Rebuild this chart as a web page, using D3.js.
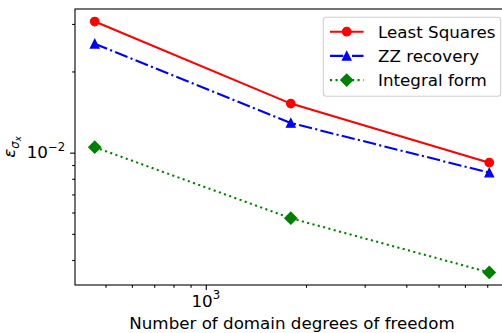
<!DOCTYPE html>
<html>
<head>
<meta charset="utf-8">
<script src="https://cdn.jsdelivr.net/npm/d3@7"></script>
<style>
  body { margin: 0; background: #fff; }
  svg text { font-family: 'DejaVu Sans', sans-serif; fill: #000; }
</style>
</head>
<body>
<svg id="chart"></svg>
<script>
// values (log-log)
const dofs = [464, 1800, 7100];
const leastSquares = [0.03062, 0.0152, 0.009181];
const zzRecovery = [0.02533, 0.01288, 0.00843];
const integralForm = [0.01048, 0.005715, 0.003597];
const seriesNames = ['Least Squares', 'ZZ recovery', 'Integral form'];

const xMajorTicks = [1000];
const xMinorTicks = [500, 600, 700, 800, 900, 2000, 3000, 4000, 5000, 6000, 7000, 8000];
const yMajorTicks = [0.01];
const yMinorTicks = [0.004, 0.005, 0.006, 0.007, 0.008, 0.009, 0.02, 0.03];

const W = 502, H = 333;
const fs = 16.7;
const plot = { left: 75, right: 509, top: 9, bottom: 285 };

const series = [
  { name: seriesNames[0], values: leastSquares, color: '#ff0000', dash: null, marker: 'circle' },
  { name: seriesNames[1], values: zzRecovery, color: '#0000ff', dash: '13.3,3.3,2.1,3.3', marker: 'triangle' },
  { name: seriesNames[2], values: integralForm, color: '#008000', dash: '2.1,3.4', marker: 'diamond' }
];

// matplotlib-like 5% margin in log space
function logPad(vals) {
  let lo = Math.log10(d3.min(vals)), hi = Math.log10(d3.max(vals)), m = (hi - lo) * 0.05;
  return [Math.pow(10, lo - m), Math.pow(10, hi + m)];
}

let x = d3.scaleLog().domain(logPad(dofs)).range([plot.left, plot.right]);
let y = d3
  .scaleLog()
  .domain(logPad(leastSquares.concat(zzRecovery, integralForm)))
  .range([plot.bottom, plot.top]);

let svg = d3
  .select('#chart')
  .attr('width', W)
  .attr('height', H);

svg.append('rect').attr('width', W).attr('height', H).attr('fill', '#fff');

// lines
let line = d3
  .line()
  .x((d, i) => x(dofs[i]))
  .y(d => y(d));

svg
  .selectAll('.series')
  .data(series)
  .enter()
  .append('path')
  .classed('series', true)
  .attr('d', s => line(s.values))
  .attr('fill', 'none')
  .attr('stroke', s => s.color)
  .attr('stroke-width', 2.08)
  .attr('stroke-dasharray', s => s.dash);

function markerPath(type) {
  let r = 4.17;
  if (type === 'circle') return d3.symbol(d3.symbolCircle, Math.PI * r * r)();
  if (type === 'triangle') return `M0,${-r}L${r},${r}L${-r},${r}Z`;
  let d = 5.9;
  return `M0,${-d}L${d},0L0,${d}L${-d},0Z`;
}

function drawMarker(g, s, cx, cy) {
  g.append('path')
    .attr('d', markerPath(s.marker))
    .attr('transform', `translate(${cx},${cy})`)
    .attr('fill', s.color)
    .attr('stroke', s.color)
    .attr('stroke-width', 1.39)
    .attr('stroke-linejoin', 'miter');
}

let marks = svg.append('g');
series.forEach(s => {
  s.values.forEach((v, i) => drawMarker(marks, s, x(dofs[i]), y(v)));
});

// axes
let xAxis = svg.append('g').attr('transform', `translate(0,${plot.bottom})`);
xAxis.call(d3.axisBottom(x).tickValues(xMinorTicks).tickSize(2.8).tickFormat(''));
xAxis.call(g => g.select('.domain').remove());
let xAxisMajor = svg.append('g').attr('transform', `translate(0,${plot.bottom})`);
xAxisMajor.call(d3.axisBottom(x).tickValues(xMajorTicks).tickSize(4.9).tickFormat(''));
xAxisMajor.call(g => g.select('.domain').remove());

let yAxis = svg.append('g').attr('transform', `translate(${plot.left},0)`);
yAxis.call(d3.axisLeft(y).tickValues(yMinorTicks).tickSize(2.8).tickFormat(''));
yAxis.call(g => g.select('.domain').remove());
let yAxisMajor = svg.append('g').attr('transform', `translate(${plot.left},0)`);
yAxisMajor.call(d3.axisLeft(y).tickValues(yMajorTicks).tickSize(4.9).tickFormat(''));
yAxisMajor.call(g => g.select('.domain').remove());

svg.selectAll('.tick line').attr('stroke', '#000').attr('stroke-width', 1.1);

svg
  .append('rect')
  .attr('x', plot.left)
  .attr('y', plot.top)
  .attr('width', plot.right - plot.left)
  .attr('height', plot.bottom - plot.top)
  .attr('fill', 'none')
  .attr('stroke', '#000')
  .attr('stroke-width', 1.1);

function powLabel(sel, v) {
  let e = Math.round(Math.log10(v));
  sel.append('tspan').text('10');
  sel
    .append('tspan')
    .attr('dy', -7.5)
    .attr('font-size', fs * 0.7)
    .text(e < 0 ? '\u2212' + -e : '' + e);
}

xMajorTicks.forEach(v => {
  let t = svg
    .append('text')
    .attr('x', x(v))
    .attr('y', 306.7)
    .attr('text-anchor', 'middle')
    .attr('font-size', fs);
  powLabel(t, v);
});

yMajorTicks.forEach(v => {
  let t = svg
    .append('text')
    .attr('x', 65.2)
    .attr('y', y(v) + 5.5)
    .attr('text-anchor', 'end')
    .attr('font-size', fs);
  powLabel(t, v);
});

// axis labels
svg
  .append('text')
  .attr('x', (plot.left + plot.right) / 2)
  .attr('y', 328.5)
  .attr('text-anchor', 'middle')
  .attr('font-size', fs)
  .text('Number of domain degrees of freedom');

let yl = svg
  .append('text')
  .attr('transform', `translate(15,${(plot.top + plot.bottom) / 2}) rotate(-90)`)
  .attr('text-anchor', 'middle')
  .attr('font-size', fs)
  .attr('font-style', 'italic');
yl.append('tspan').text('\u03b5');
yl.append('tspan').attr('dy', 3.5).attr('font-size', fs * 0.7).text('\u03c3');
yl.append('tspan').attr('dy', 2.5).attr('font-size', fs * 0.5).text('x');

// legend
let legend = svg.append('g');
legend
  .append('rect')
  .attr('x', 323.3)
  .attr('y', 17.3)
  .attr('width', 177.4)
  .attr('height', 79)
  .attr('rx', 3)
  .attr('fill', '#fff')
  .attr('fill-opacity', 0.8)
  .attr('stroke', '#d0d0d0')
  .attr('stroke-width', 1.1);

series.forEach((s, i) => {
  let ly = 31.7 + i * 24.2;
  legend
    .append('line')
    .attr('x1', 330)
    .attr('x2', 363.5)
    .attr('y1', ly)
    .attr('y2', ly)
    .attr('stroke', s.color)
    .attr('stroke-width', 2.08)
    .attr('stroke-dasharray', s.dash);
  drawMarker(legend, s, 346.7, ly);
  legend
    .append('text')
    .attr('x', 378)
    .attr('y', ly + 5.9)
    .attr('font-size', fs)
    .text(s.name);
});
</script>
</body>
</html>
